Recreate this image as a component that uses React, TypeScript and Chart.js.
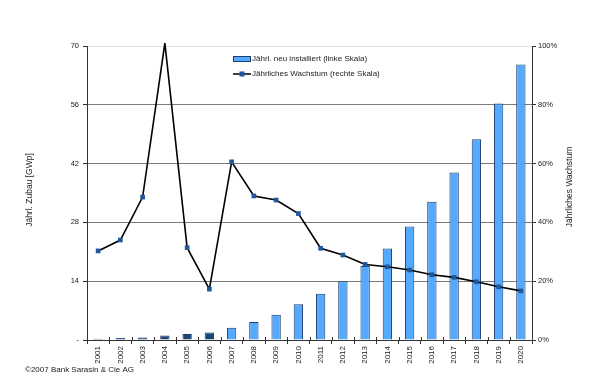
import React, { useEffect, useRef } from "react";
import { Chart, registerables } from "chart.js";

Chart.register(...registerables);

const years = ["2001","2002","2003","2004","2005","2006","2007","2008","2009","2010","2011","2012","2013","2014","2015","2016","2017","2018","2019","2020"];
const installed = [0.3, 0.45, 0.6, 1.1, 1.4, 1.8, 2.9, 4.3, 6.0, 8.5, 11.0, 14.0, 17.6, 21.8, 27.0, 32.9, 39.9, 47.8, 56.3, 65.6];
const growth = [30.3, 34, 48.6, 101, 31.4, 17.3, 60.6, 49, 47.6, 43, 31.2, 28.9, 25.7, 24.9, 23.8, 22.2, 21.3, 19.8, 18.1, 16.7];
const historicalCount = 6;
const legendBar = "Jährl. neu installiert (linke Skala)";
const legendLine = "Jährliches Wachstum (rechte Skala)";
const leftTitle = "Jährl. Zubau [GWp]";
const rightTitle = "Jährliches Wachstum";
const footer = "©2007 Bank Sarasin & Cie AG";

const FONT = "'Liberation Sans', Arial, sans-serif";
const TXT = "#222";

export default function App() {
  const ref = useRef<HTMLCanvasElement | null>(null);
  useEffect(() => {
    if (!ref.current) return;
    const overlay = {
      id: "overlay",
      afterDraw(chart: any) {
        const ctx = chart.ctx;
        const a = chart.chartArea;
        const xs = chart.scales.x;
        ctx.save();
        // inner halves of x tick marks (crossing the axis)
        ctx.strokeStyle = "#333";
        ctx.lineWidth = 1;
        ctx.beginPath();
        for (let i = 0; i <= years.length; i++) {
          const px = Math.round(xs.getPixelForValue(i - 0.5)) + 0.5;
          ctx.moveTo(px, a.bottom - 3);
          ctx.lineTo(px, a.bottom);
        }
        ctx.stroke();
        ctx.fillStyle = TXT;
        ctx.font = `8.5px ${FONT}`;
        ctx.textAlign = "center";
        ctx.textBaseline = "middle";
        const cy = (a.top + a.bottom) / 2;
        ctx.save();
        ctx.translate(30, cy - 3);
        ctx.rotate(-Math.PI / 2);
        ctx.fillText(leftTitle, 0, 0);
        ctx.restore();
        ctx.save();
        ctx.translate(570, cy - 6);
        ctx.rotate(-Math.PI / 2);
        ctx.fillText(rightTitle, 0, 0);
        ctx.restore();
        // footer
        ctx.font = `8px ${FONT}`;
        ctx.textAlign = "left";
        ctx.fillText(footer, 25, 370);
        // legend
        const lx = 233, ly1 = 59, ly2 = 74;
        ctx.fillStyle = "#55aaff";
        ctx.strokeStyle = "#1c3c6c";
        ctx.lineWidth = 1;
        ctx.fillRect(lx + 0.5, ly1 - 2.5, 17, 5);
        ctx.strokeRect(lx + 0.5, ly1 - 2.5, 17, 5);
        ctx.strokeStyle = "#000";
        ctx.lineWidth = 1.5;
        ctx.beginPath();
        ctx.moveTo(lx, ly2);
        ctx.lineTo(lx + 18, ly2);
        ctx.stroke();
        ctx.fillStyle = "#1f5799";
        ctx.fillRect(lx + 6.5, ly2 - 2.5, 5, 5);
        ctx.fillStyle = TXT;
        ctx.fillText(legendBar, lx + 19, ly1);
        ctx.fillText(legendLine, lx + 19, ly2);
        ctx.restore();
      },
    };
    const chart = new Chart(ref.current, {
      type: "bar",
      data: {
        labels: years,
        datasets: [
          {
            type: "line",
            label: legendLine,
            data: growth,
            yAxisID: "y1",
            borderColor: "#000",
            borderWidth: 1.6,
            pointStyle: "rect",
            pointRadius: (c: any) => (c.raw > 100 ? 0 : 3.3),
            pointBackgroundColor: "#1f5799",
            pointBorderColor: "#1f5799",
            pointBorderWidth: 0,
            tension: 0,
            order: 0,
            clip: { left: 5, right: 5, top: 3, bottom: 5 },
          } as any,
          {
            type: "bar",
            label: legendBar,
            data: installed,
            yAxisID: "y",
            backgroundColor: installed.map((_, i) => (i < historicalCount ? "#1a4576" : "#55aaff")),
            borderColor: "#1c3c6c",
            borderWidth: 1,
            barPercentage: 0.42,
            categoryPercentage: 1,
            order: 1,
          },
        ],
      },
      options: {
        responsive: false,
        animation: false,
        layout: { padding: { top: 46, left: 0, right: 0, bottom: 0 } },
        plugins: { legend: { display: false }, tooltip: { enabled: false } },
        scales: {
          x: {
            offset: true,
            grid: { offset: true, drawOnChartArea: false, tickLength: 4, tickColor: "#333" },
            border: { color: "#333" },
            ticks: { minRotation: 90, maxRotation: 90, color: TXT, font: { family: FONT, size: 8 }, padding: 2 },
            afterFit: (s: any) => { s.height = 39; },
          },
          y: {
            position: "left",
            min: 0,
            max: 70,
            ticks: {
              stepSize: 14,
              color: TXT,
              font: { family: FONT, size: 7.5 },
              padding: 4,
              callback: (v: any) => (v === 0 ? "-" : String(v)),
            },
            grid: {
              color: (c: any) => (c.tick && c.tick.value === 70 ? "#e4e4e4" : "#7a7a7a"),
              tickLength: 4,
              tickColor: "#333",
            },
            border: { color: "#333" },
            afterFit: (s: any) => { s.width = 87; },
          },
          y1: {
            position: "right",
            min: 0,
            max: 100,
            ticks: {
              stepSize: 20,
              color: TXT,
              font: { family: FONT, size: 7.5 },
              padding: 2,
              callback: (v: any) => `${v}%`,
            },
            grid: { drawOnChartArea: false, tickLength: 4, tickColor: "#333" },
            border: { color: "#333" },
            afterFit: (s: any) => { s.width = 68; },
          },
        },
      } as any,
      plugins: [overlay],
    });
    return () => chart.destroy();
  }, []);
  return (
    <div style={{ position: "fixed", left: 0, top: 0, width: 600, height: 379, background: "#fff" }}>
      <canvas ref={ref} width={600} height={379} style={{ width: 600, height: 379 }} />
    </div>
  );
}
